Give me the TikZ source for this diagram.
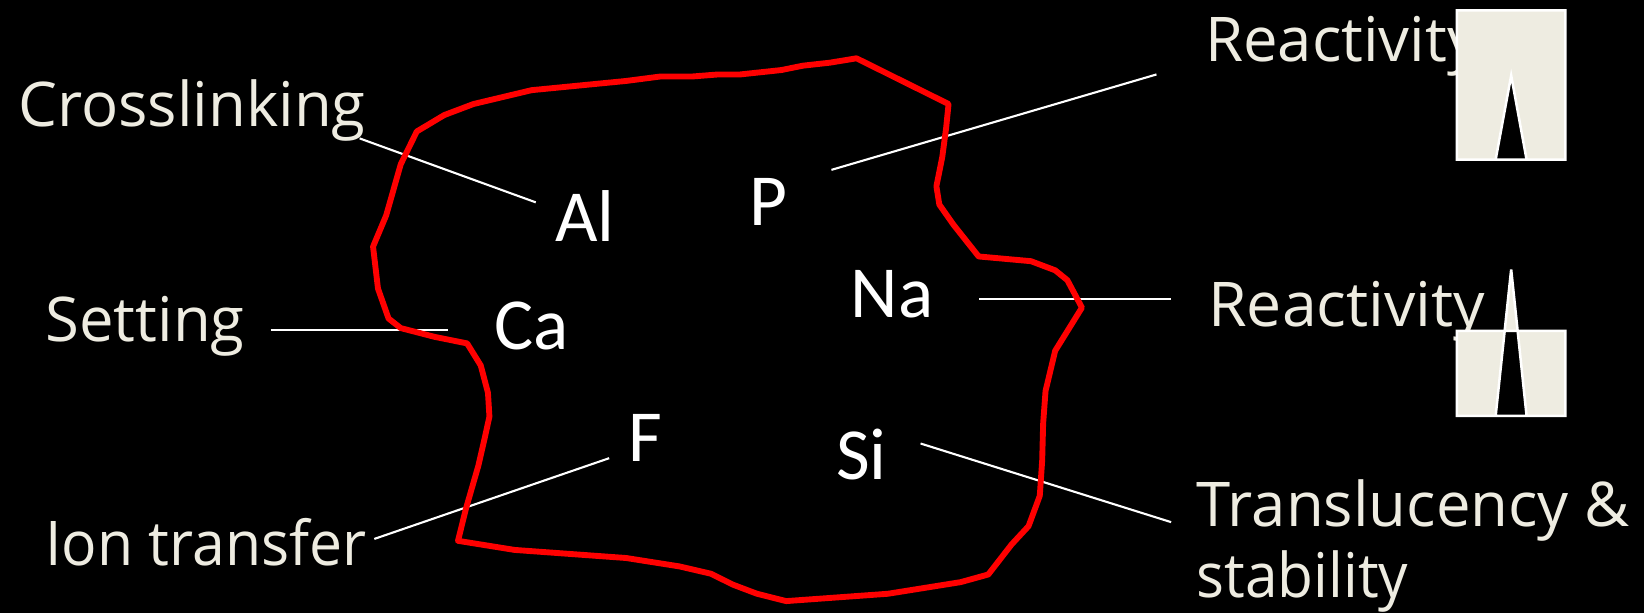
\documentclass[tikz,border=0pt]{standalone}
\usepackage{fontspec}
\setmainfont{Open Sans}
\newfontfamily\elemfont{Carlito}
\tikzset{
  label text/.style={anchor=base west,inner sep=0pt,text=cream,font=\fontsize{29.4}{33}\selectfont},
  elem text/.style={anchor=base west,inner sep=0pt,text=white,font=\elemfont\fontsize{35}{40}\selectfont},
  leader/.style={draw=white,line width=1pt},
  blob/.style={draw=red,line width=2.8pt,line join=round},
  gauge/.style={draw=white,fill=cream,even odd rule,line width=1.2pt,line join=miter,miter limit=8}
}
\definecolor{cream}{HTML}{EEECE1}
\begin{document}
\begin{tikzpicture}[x=0.5pt,y=-0.5pt]
\useasboundingbox (0,0) rectangle (1568,585);
\fill[black] (0,0) rectangle (1568,585);
% labels
\node[label text] (cross) at (17,121) {Crosslinking};
\node[label text] (react1) at (1149,59) {Reactivity};
\node[label text] (setting) at (43,326) {Setting};
\node[label text,xscale=1.015,transform shape] (react2) at (1152,311) {Reactivity};
\node[label text,xscale=0.955,transform shape] (ion) at (43,539) {Ion transfer};
\node[label text] (trans) at (1141,502) {Translucency \&};
\node[label text,xscale=0.95,transform shape] (stab) at (1141,570) {stability};
% elements
\node[elem text] (al) at (529,230) {Al};
\node[elem text] (p) at (714,215) {P};
\node[elem text] (na) at (811,303) {Na};
\node[elem text] (ca) at (471,333) {Ca};
\node[elem text] (f) at (599,440) {F};
\node[elem text] (si) at (797,457) {Si};
% connector ends
\coordinate (c1) at (343,132); \coordinate (c2) at (511,193);
\coordinate (p1) at (793,162); \coordinate (p2) at (1103,71);
\coordinate (s1) at (258,315); \coordinate (s2) at (427,315);
\coordinate (n1) at (934,285); \coordinate (n2) at (1117,285);
\coordinate (f1) at (357,514); \coordinate (f2) at (581,437);
\coordinate (i1) at (878,423); \coordinate (i2) at (1117,498);
\draw[leader] (c1) -- (c2);
\draw[leader] (p1) -- (p2);
\draw[leader] (s1) -- (s2);
\draw[leader] (n1) -- (n2);
\draw[leader] (f1) -- (f2);
\draw[leader] (i1) -- (i2);
% outline
\draw[blob] (816.9,55.6) -- (904.7,99.2) -- (902.4,121.9) -- (898.7,149.8) -- (893.1,177.6) -- (895.9,195.1) -- (909.3,214.2) -- (933.4,244.6) -- (983.3,249.1) -- (1006.4,257.8) -- (1018,267.2) -- (1031.9,293.4) -- (1006.4,334.5) -- (997.2,372.9) -- (994.9,404.2) -- (994,439.1) -- (991.7,472.9) -- (981,501.8) -- (964.8,519.3) -- (942.6,547.9) -- (916.3,555.2) -- (846.9,566.3) -- (749.8,573.3) -- (722,566.3) -- (699,557.6) -- (678.1,547.2) -- (648,540.2) -- (597.2,532.2) -- (490.9,524.5) -- (436.8,515.8) -- (444.6,484.4) -- (456.2,444.3) -- (462.2,418.2) -- (466.8,397.3) -- (465.4,374.6) -- (458.5,348.5) -- (445.5,327.5) -- (414.6,321.3) -- (382.2,312.9) -- (370.6,303.8) -- (360.5,275.2) -- (355.8,235.2) -- (368.3,205.5) -- (382.2,156.7) -- (397.5,125.4) -- (423.8,109.7) -- (451.6,99.2) -- (507,86) -- (597.2,77.2) -- (629.6,73) -- (659.6,73) -- (685,71) -- (705.9,71) -- (745.2,66.8) -- (766,62.6) -- (791.4,59.8) -- cycle;
% gauges
\path[gauge] (1389.5,10) rectangle (1493,152.2) (1426.5,152.2) -- (1441.3,72) -- (1456,152.2) -- cycle;
\path[gauge] (1389.5,315.5) rectangle (1493,396.6) (1426.5,396.6) -- (1441.3,257) -- (1456,396.6) -- cycle;
\end{tikzpicture}
\end{document}
